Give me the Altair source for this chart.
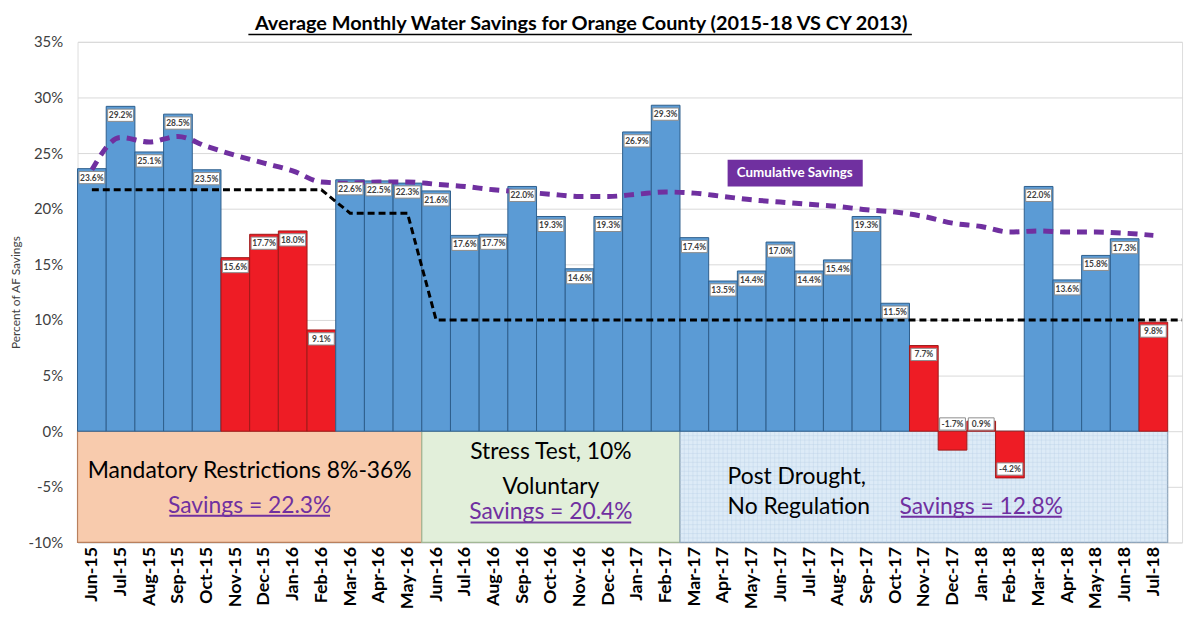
import altair as alt
import pandas as pd

# ---------------- data ----------------
months = ["Jun-15", "Jul-15", "Aug-15", "Sep-15", "Oct-15", "Nov-15", "Dec-15", "Jan-16",
          "Feb-16", "Mar-16", "Apr-16", "May-16", "Jun-16", "Jul-16", "Aug-16", "Sep-16",
          "Oct-16", "Nov-16", "Dec-16", "Jan-17", "Feb-17", "Mar-17", "Apr-17", "May-17",
          "Jun-17", "Jul-17", "Aug-17", "Sep-17", "Oct-17", "Nov-17", "Dec-17", "Jan-18",
          "Feb-18", "Mar-18", "Apr-18", "May-18", "Jun-18", "Jul-18"]
savings = [23.6, 29.2, 25.1, 28.5, 23.5, 15.6, 17.7, 18.0, 9.1, 22.6, 22.5, 22.3, 21.6,
           17.6, 17.7, 22.0, 19.3, 14.6, 19.3, 26.9, 29.3, 17.4, 13.5, 14.4, 17.0, 14.4,
           15.4, 19.3, 11.5, 7.7, -1.7, 0.9, -4.2, 22.0, 13.6, 15.8, 17.3, 9.8]
below_target = [False, False, False, False, False, True, True, True, True, False, False,
                False, False, False, False, False, False, False, False, False, False, False,
                False, False, False, False, False, False, False, True, True, True, True,
                False, False, False, False, True]
cumulative = [23.5, 26.4, 26.0, 26.5, 25.6, 24.8, 24.1, 23.4, 22.4, 22.3, 22.4, 22.4, 22.2,
              22.0, 21.7, 21.5, 21.3, 21.1, 21.1, 21.3, 21.5, 21.4, 21.1, 20.8, 20.6, 20.4,
              20.2, 19.9, 19.7, 19.3, 18.7, 18.4, 17.9, 18.0, 17.9, 17.9, 17.8, 17.6]
target = [21.7] * 9 + [19.6] * 3 + [10.0] * 26

period_names = ["Mandatory", "Stress", "Post"]
period_start = ["Jun-15", "Jun-16", "Mar-17"]
period_end = ["May-16", "Feb-17", "Jul-18"]
period_fill = ["#F8CBAD", "#E2EFDA", "#DDEBF7"]
period_stroke = ["#B9805E", "#A3B896", "#8FA5BA"]
period_savings = ["Savings = 22.3%", "Savings = 20.4%", "Savings = 12.8%"]

title_text = "Average Monthly Water Savings for Orange County (2015-18 VS CY 2013)"
FONT = "Lato"

# ---------------- tables ----------------
n = len(months)
df = pd.DataFrame({"month": months, "savings": savings, "below": below_target,
                   "cum": cumulative, "target": target})
df["i0"] = range(n)
df["i1"] = df["i0"] + 1
df["xc"] = df["i0"] + 0.5
df["label"] = [f"{v:.1f}%" for v in savings]


def lab_center(v):
    if v >= 2:
        return v - 0.8
    if v > -2:
        return 0.65
    return v + 0.8


df["lab"] = [lab_center(v) for v in savings]
df["lab_lo"] = df["lab"] - 0.55
df["lab_hi"] = df["lab"] + 0.55
df["lx0"] = df["xc"] - 0.45
df["lx1"] = df["xc"] + 0.45

tdf = pd.DataFrame({"x": list(df["xc"]) + [n + 0.5], "y": target + [target[-1]]})

pdf = pd.DataFrame({
    "name": period_names,
    "x0": [months.index(m) for m in period_start],
    "x1": [months.index(m) + 1 for m in period_end],
    "fill": period_fill,
    "stroke": period_stroke,
})

# fine grid texture of the "Post Drought" box (decoration only)
post_x0 = months.index(period_start[2])
post_x1 = months.index(period_end[2]) + 1
vgrid = pd.DataFrame({"x": [post_x0 + k * 0.15 for k in range(1, int((post_x1 - post_x0) / 0.15) + 1)]})
hgrid = pd.DataFrame({"y": [-k * 0.4 for k in range(1, 25)]})

xscale = alt.Scale(domain=[0, n + 0.5], nice=False, zero=False)
yscale = alt.Scale(domain=[-10, 35], nice=False)

label_expr = "[" + ",".join(f"'{m}'" for m in months) + "][floor(datum.value)]"

x_axis = alt.Axis(values=[i + 0.5 for i in range(n)], labelExpr=label_expr, labelAngle=270,
                  labelFontSize=18, labelFontWeight="bold", labelColor="#000000",
                  labelFont=FONT, labelPadding=4, labelOverlap=False, labelFlush=False,
                  grid=False, domain=False, ticks=False, title=None)
y_axis = alt.Axis(values=list(range(-10, 36, 5)), labelExpr="datum.value + '%'",
                  labelFontSize=15, labelColor="#404040", labelFont=FONT, labelPadding=15,
                  grid=True, gridColor="#D9D9D9", gridWidth=1, domain=False, ticks=False,
                  title="Percent of AF Savings", titleFontSize=12, titleFontWeight="normal",
                  titleColor="#404040", titleFont=FONT, titlePadding=5)


def X(field):
    return alt.X(field, scale=xscale, axis=x_axis)


def Y(field):
    return alt.Y(field, scale=yscale, axis=y_axis)


# period boxes
boxes = alt.Chart(pdf).mark_rect(strokeWidth=1.2).encode(
    x=X("x0:Q"), x2="x1:Q", y=Y("y0:Q"), y2="y1:Q",
    fill=alt.Fill("fill:N", scale=None),
    stroke=alt.Stroke("stroke:N", scale=None),
).transform_calculate(y0="0", y1="-10")

vlines = alt.Chart(vgrid).mark_rule(color="#B8CFE6", strokeWidth=0.6, opacity=0.6).encode(
    x=X("x:Q"), y=Y("ya:Q"), y2="yb:Q").transform_calculate(ya="0", yb="-10")
hlines = alt.Chart(hgrid).mark_rule(color="#B8CFE6", strokeWidth=0.6, opacity=0.6).encode(
    y=Y("y:Q"), x=X("xa:Q"), x2="xb:Q").transform_calculate(
    xa=str(post_x0), xb=str(post_x1))

# bars
bars = alt.Chart(df).mark_rect(strokeWidth=1).encode(
    x=X("i0:Q"), x2="i1:Q", y=Y("savings:Q"), y2=alt.Y2("zero:Q"),
    fill=alt.Fill("below:N", scale=alt.Scale(domain=[False, True], range=["#5B9BD5", "#EE1C25"]),
                  legend=None),
    stroke=alt.Stroke("below:N", scale=alt.Scale(domain=[False, True], range=["#2E5F8C", "#9E1A1A"]),
                      legend=None),
).transform_calculate(zero="0")

# label boxes
lab_boxes = alt.Chart(df).mark_rect(fill="white", stroke="#8C8C8C", strokeWidth=1).encode(
    x=X("lx0:Q"), x2="lx1:Q", y=Y("lab_lo:Q"), y2="lab_hi:Q",
)
lab_text = alt.Chart(df).mark_text(font=FONT, fontSize=8.5, fontWeight="bold",
                                   color="#404040", baseline="middle").encode(
    x=X("xc:Q"), y=Y("lab:Q"), text="label:N",
)

# target line
target_line = alt.Chart(tdf).mark_line(color="#000000", strokeWidth=3, strokeDash=[7, 4]).encode(
    x=X("x:Q"), y=Y("y:Q"),
)

# cumulative line
cum_line = alt.Chart(df).mark_line(color="#7030A0", strokeWidth=5, strokeDash=[10, 7],
                                   interpolate="monotone").encode(
    x=X("xc:Q"), y=Y("cum:Q"),
)

# cumulative savings tag
tag_df = pd.DataFrame({"x0": [22.66], "x1": [27.37], "y0": [22.0], "y1": [24.4],
                       "xc": [25.0], "yc": [23.2], "t": ["Cumulative Savings"]})
tag_box = alt.Chart(tag_df).mark_rect(fill="#7030A0").encode(
    x=X("x0:Q"), x2="x1:Q", y=Y("y0:Q"), y2="y1:Q")
tag_text = alt.Chart(tag_df).mark_text(font=FONT, fontSize=13.5, fontWeight="bold", color="white",
                                       baseline="middle").encode(
    x=X("xc:Q"), y=Y("yc:Q"), text="t:N")

# box texts
btxt_df = pd.DataFrame({
    "t": ["Mandatory Restrictions 8%-36%", "Stress Test, 10%", "Voluntary",
          "Post Drought,", "No Regulation"],
    "x": [6.0, 16.5, 16.5, 22.66, 22.66],
    "y": [-3.6, -1.9, -5.0, -4.1, -6.8],
    "align": ["center", "center", "center", "left", "left"],
})
btxt_c = alt.Chart(btxt_df[btxt_df["align"] == "center"]).mark_text(
    font=FONT, fontSize=23, color="#000000", baseline="middle", align="center").encode(
    x=X("x:Q"), y=Y("y:Q"), text="t:N")
btxt_l = alt.Chart(btxt_df[btxt_df["align"] == "left"]).mark_text(
    font=FONT, fontSize=23, color="#000000", baseline="middle", align="left").encode(
    x=X("x:Q"), y=Y("y:Q"), text="t:N")

sav_df = pd.DataFrame({"t": period_savings, "x": [6.0, 16.5, 31.5], "y": [-6.7, -7.3, -6.8]})
sav_df["ul"] = sav_df["y"] - 0.9
sav_df["ux0"] = sav_df["x"] - 2.8
sav_df["ux1"] = sav_df["x"] + 2.8
sav_text = alt.Chart(sav_df).mark_text(font=FONT, fontSize=23, color="#7030A0",
                                       baseline="middle", align="center").encode(
    x=X("x:Q"), y=Y("y:Q"), text="t:N")
sav_ul = alt.Chart(sav_df).mark_rule(color="#7030A0", strokeWidth=2).encode(
    x=X("ux0:Q"), x2="ux1:Q", y=Y("ul:Q"))

# title
title_df = pd.DataFrame({"t": [title_text]})
title = alt.Chart(title_df).mark_text(font=FONT, fontSize=20, fontWeight="bold", color="#000000",
                                      baseline="alphabetic", align="center").encode(
    x=alt.value(507), y=alt.value(-11.5), text="t:N")
title_ul = alt.Chart(title_df).mark_rule(color="#000000", strokeWidth=1.5).encode(
    x=alt.value(172), x2=alt.value(840), y=alt.value(-7.5))

chart = alt.layer(
    boxes, vlines, hlines, bars, target_line, cum_line, lab_boxes, lab_text, tag_box, tag_text,
    btxt_c, btxt_l, sav_text, sav_ul, title, title_ul
).resolve_scale(fill="independent", stroke="independent").properties(
    width=1112, height=504,
    padding={"left": 70, "top": 32, "right": 6, "bottom": 73},
    autosize=alt.AutoSizeParams(type="none"),
).configure_view(stroke=None).configure(background="white").configure_axisX(labelOverlap=False)

chart.save("out.html", embed_options={"renderer": "svg", "actions": False})
